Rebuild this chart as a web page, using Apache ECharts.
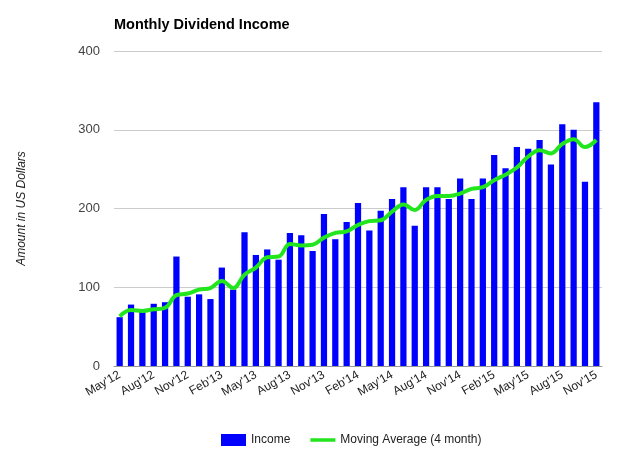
<!DOCTYPE html>
<html>
<head>
<meta charset="utf-8">
<script src="https://cdn.jsdelivr.net/npm/echarts@6/dist/echarts.min.js"></script>
<style>
  html, body { margin: 0; padding: 0; background: #fff; }
  #main { width: 640px; height: 454px; }
</style>
</head>
<body>
<div id="main"></div>
<script>
// months May'12 .. Nov'15
var months = ["May'12","Jun'12","Jul'12","Aug'12","Sep'12","Oct'12","Nov'12","Dec'12",
  "Jan'13","Feb'13","Mar'13","Apr'13","May'13","Jun'13","Jul'13","Aug'13","Sep'13","Oct'13","Nov'13","Dec'13",
  "Jan'14","Feb'14","Mar'14","Apr'14","May'14","Jun'14","Jul'14","Aug'14","Sep'14","Oct'14","Nov'14","Dec'14",
  "Jan'15","Feb'15","Mar'15","Apr'15","May'15","Jun'15","Jul'15","Aug'15","Sep'15","Oct'15","Nov'15"];

var income = [62, 78, 69, 79, 81, 139, 88, 91, 85, 125, 97,
  170, 141, 148, 135, 169, 166, 146, 193, 161, 183, 207,
  172, 197, 212, 227, 178, 227, 227, 212, 238, 212, 238,
  268, 251, 278, 276, 287, 256, 307, 300, 234, 335];

var movingAvg = [63, 71, 70, 72, 74, 90, 92, 97, 99, 108, 99,
  116, 125, 138, 139, 155, 153, 154, 163, 169, 171, 179,
  184, 185, 196, 205, 198, 211, 216, 216, 219, 225, 227,
  236, 243, 252, 266, 274, 270, 282, 288, 278, 287];

var yTicks = [0, 100, 200, 300, 400];

var FONT = 'Liberation Sans, Arial, sans-serif';
var chart = echarts.init(document.getElementById('main'));

var option = {
  animation: false,
  textStyle: { fontFamily: FONT },
  title: {
    text: 'Monthly Dividend Income',
    left: 109,
    top: 12,
    textStyle: { fontSize: 14.5, fontWeight: 'bold', color: '#000', fontFamily: FONT }
  },
  legend: {
    left: 216,
    top: 429,
    itemWidth: 25,
    itemHeight: 12,
    itemGap: 20,
    textStyle: { fontSize: 12, color: '#222', fontFamily: FONT },
    data: [
      { name: 'Income', icon: 'rect' },
      { name: 'Moving Average (4 month)', icon: 'path://M0,0 L25,0 L25,3.5 L0,3.5 Z', symbolKeepAspect: true }
    ]
  },
  grid: { left: 114, right: 38, top: 51, bottom: 88 },
  xAxis: {
    type: 'category',
    data: months,
    boundaryGap: true,
    axisTick: { show: false },
    axisLine: { lineStyle: { color: '#999' } },
    axisLabel: {
      interval: 2,
      rotate: 30,
      margin: 8,
      fontSize: 12,
      color: '#222',
      fontFamily: FONT
    }
  },
  yAxis: {
    type: 'value',
    min: yTicks[0],
    max: yTicks[yTicks.length - 1],
    interval: 100,
    name: 'Amount in US Dollars',
    nameLocation: 'middle',
    nameGap: 86,
    nameTextStyle: { fontStyle: 'italic', fontSize: 12, color: '#222', fontFamily: FONT },
    axisLine: { show: false },
    axisTick: { show: false },
    axisLabel: { margin: 14, fontSize: 13, color: '#444', fontFamily: FONT },
    splitLine: { lineStyle: { color: '#ccc' } }
  },
  series: [
    {
      name: 'Income',
      type: 'bar',
      data: income,
      barWidth: '55%',
      itemStyle: { color: '#0000ff' }
    },
    {
      name: 'Moving Average (4 month)',
      type: 'line',
      data: movingAvg,
      smooth: 0.4,
      symbol: 'none',
      lineStyle: { color: '#22e51e', width: 4 },
      itemStyle: { color: '#22e51e' }
    }
  ]
};

chart.setOption(option);
</script>
</body>
</html>
